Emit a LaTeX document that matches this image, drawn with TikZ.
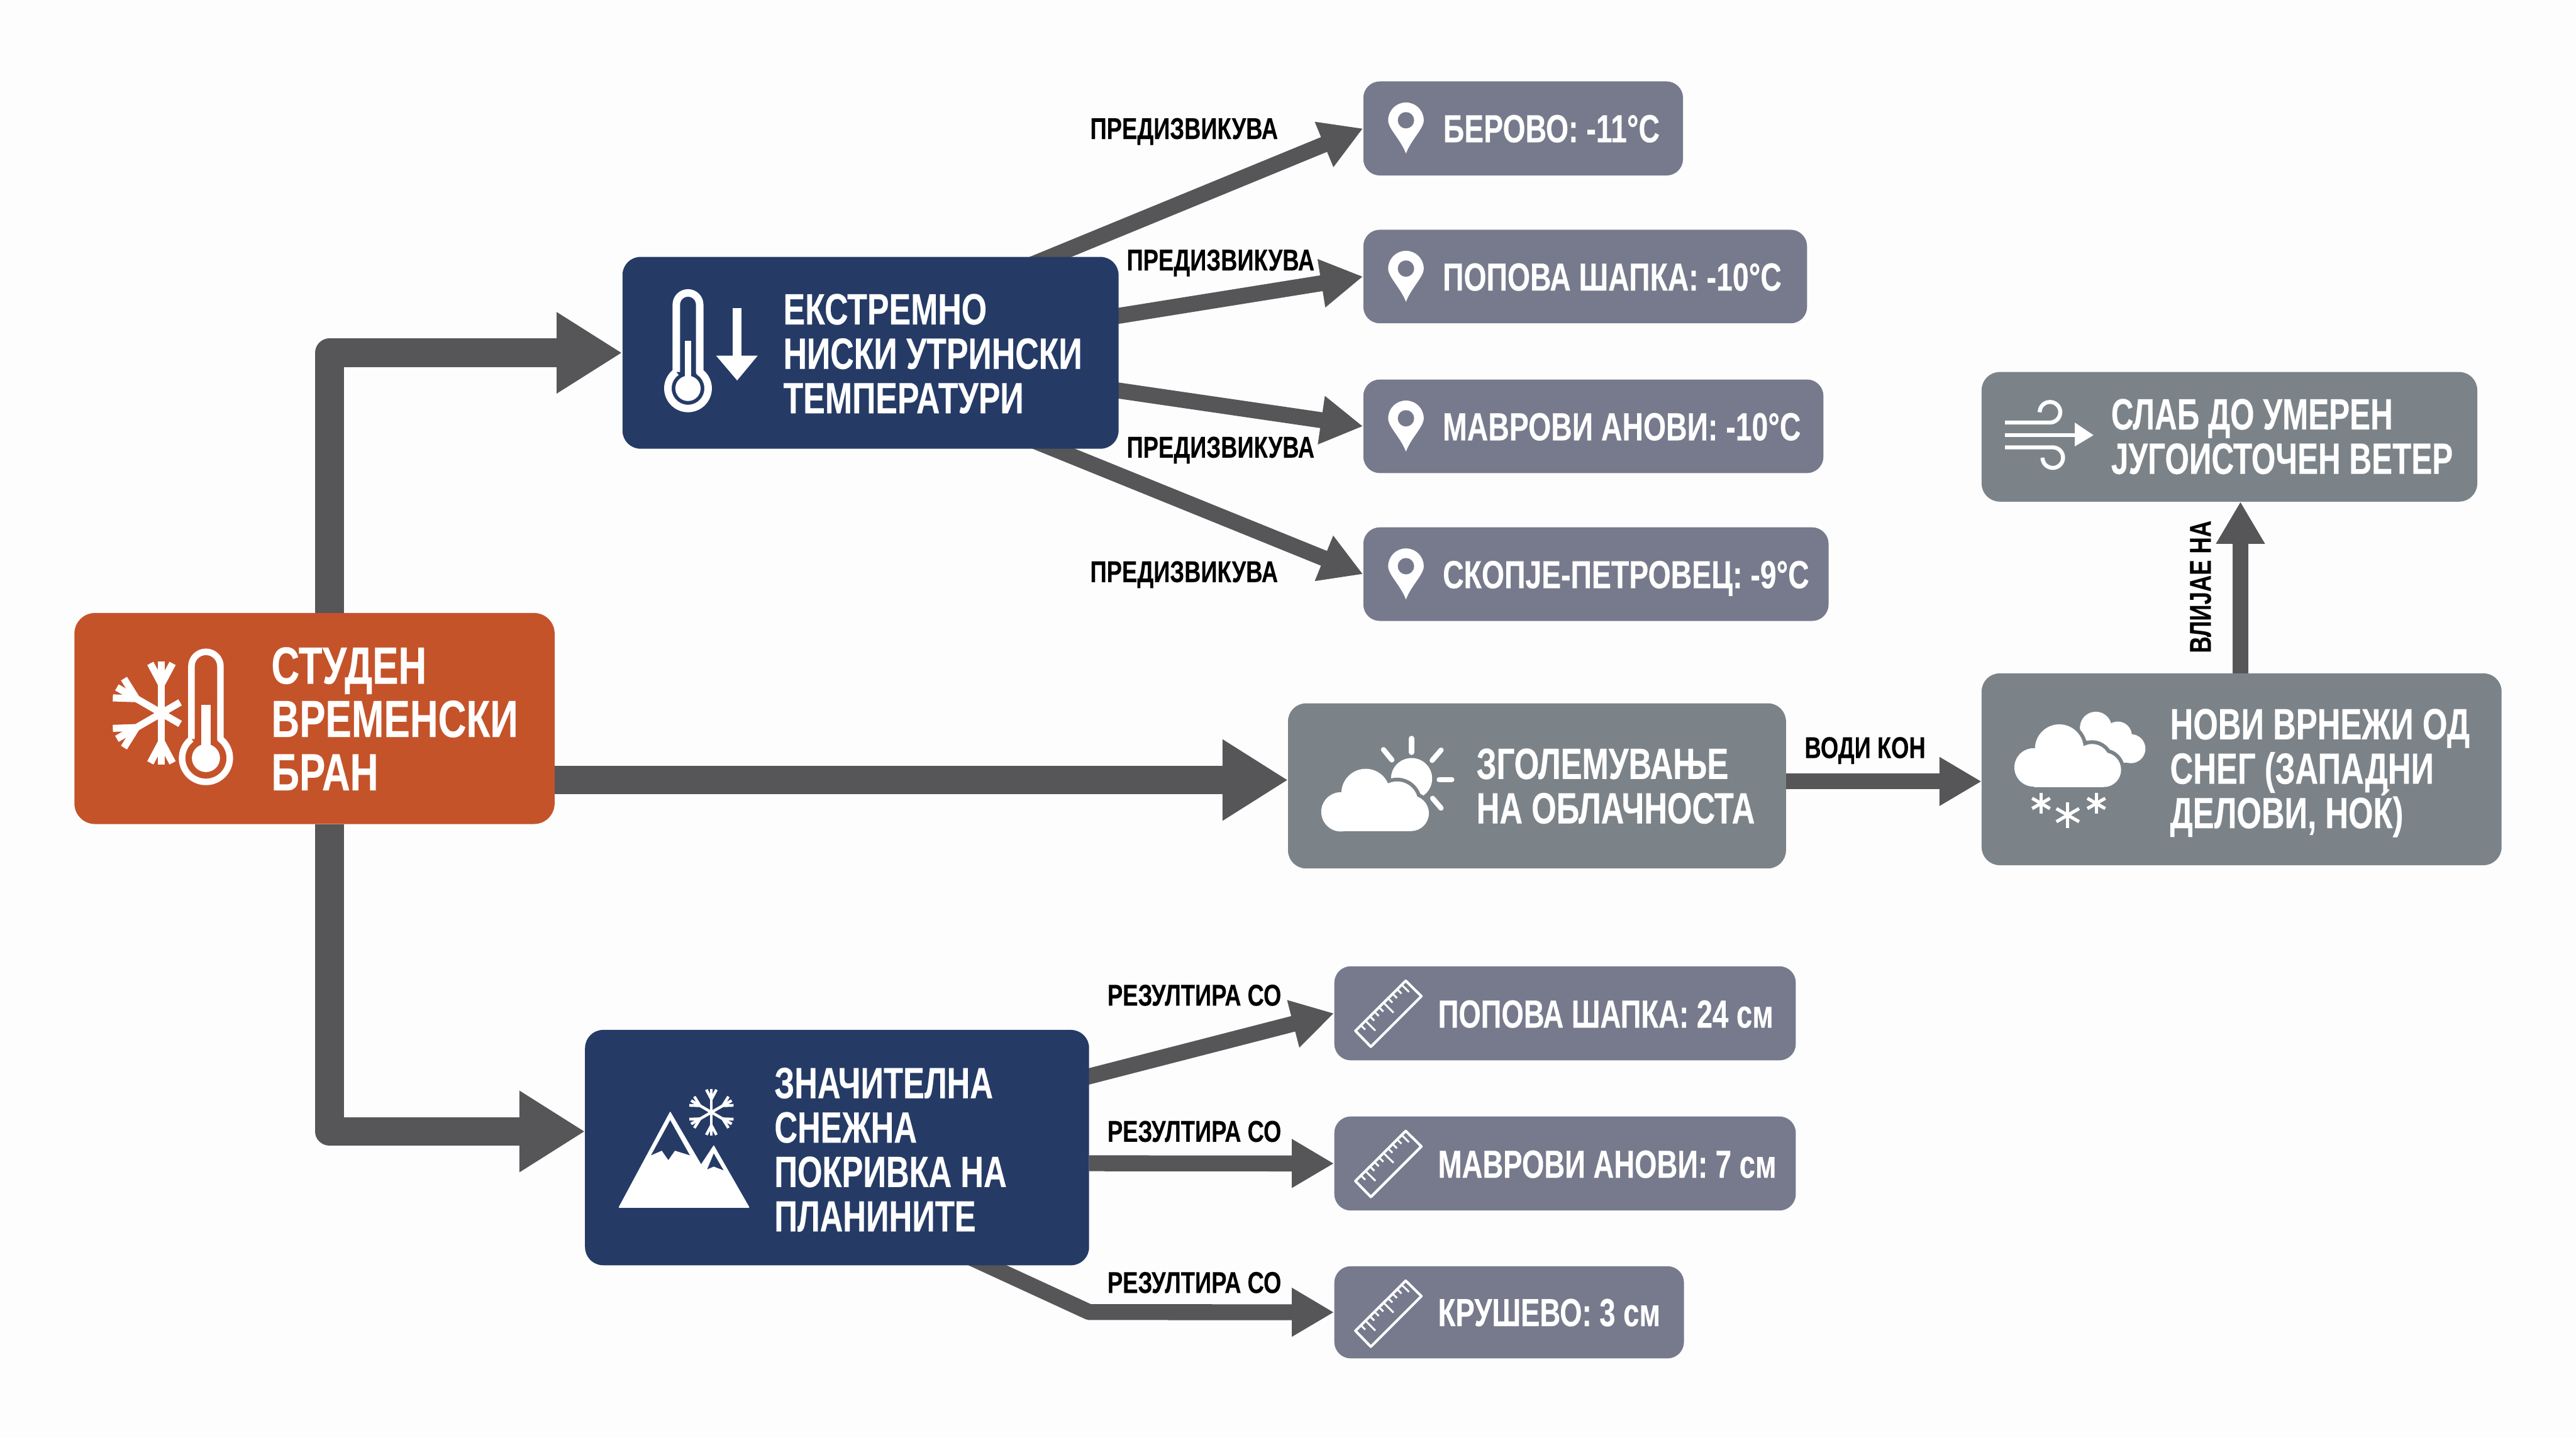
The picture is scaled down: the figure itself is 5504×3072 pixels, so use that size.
\documentclass[tikz,border=0pt]{standalone}
\usepackage{fontspec}
\setmainfont{Liberation Sans}
\newfontfamily\cfa{Liberation Sans}[FakeStretch=0.71,FakeBold=0.25]
\newfontfamily\cfb{Liberation Sans}[FakeStretch=0.73,FakeBold=0.25]
\newfontfamily\cfc{Liberation Sans}[FakeStretch=0.745,FakeBold=0.25]
\newfontfamily\cfd{Liberation Sans}[FakeStretch=0.76,FakeBold=0.15]
\usetikzlibrary{arrows.meta,calc}
\definecolor{pagebg}{HTML}{FDFDFD}
\definecolor{orangebox}{HTML}{C4532A}
\definecolor{navybox}{HTML}{253B66}
\definecolor{graybox}{HTML}{7B8389}
\definecolor{slatebox}{HTML}{767A8C}
\definecolor{linkgray}{HTML}{565557}
\pgfdeclarelayer{bglayer}
\pgfdeclarelayer{connlayer}
\pgfsetlayers{bglayer,connlayer,main}
\tikzset{
  boxbase/.style={rectangle,inner sep=0pt,draw=none},
  rootbox/.style={boxbase,fill=orangebox,rounded corners=12.5pt},
  mainbox/.style={boxbase,fill=navybox,rounded corners=11pt},
  cloudbox/.style={boxbase,fill=graybox,rounded corners=11pt},
  leafbox/.style={boxbase,fill=slatebox,rounded corners=10pt},
  txtbase/.style={inner sep=0pt,text=white,align=left,anchor=west,execute at begin node={\lineskiplimit=-100pt}},
  roottxt/.style={txtbase,font=\cfc\bfseries\fontsize{31.8}{32.4}\selectfont},
  midtxtc/.style={txtbase,font=\cfc\bfseries\fontsize{26.6}{27}\selectfont},
  midtxtb/.style={txtbase,font=\cfb\bfseries\fontsize{26.6}{27}\selectfont},
  midtxta/.style={txtbase,font=\cfa\bfseries\fontsize{26.6}{27}\selectfont},
  leaftxt/.style={txtbase,anchor=base west,font=\cfc\bfseries\fontsize{23.8}{24}\selectfont},
  leaftxtb/.style={txtbase,anchor=base west,font=\cfb\bfseries\fontsize{23.8}{24}\selectfont},
  linklabel/.style={inner sep=0pt,text=black,font=\cfd\bfseries\fontsize{18.3}{19}\selectfont},
  bigconn/.style={draw=linkgray,line width=0.61cm,line join=round,-{Triangle[length=1.4cm,width=1.64cm]}},
  smallconn/.style={draw=linkgray,line width=0.34cm,line join=round,-{Triangle[length=0.9cm,width=0.98cm]}},
  iconline/.style={draw=white,line cap=round,line join=round},
}
% box from left/top/right/bottom in picture pixels
\newcommand\boxat[6]{\node[#2,minimum width={(#5-#3)*0.01cm},minimum height={(#6-#4)*0.01cm}] (#1) at ({(#3+#5)/2},{(#4+#6)/2}) {};}
% thermometer: cx, top, outer half width, bulb centre y, bulb outer r, stroke, mercury top, mercury w, blob r
\newcommand\thermo[9]{%
  \pgfmathsetmacro\hwc{#3-#6/2}\pgfmathsetmacro\rc{#5-#6/2}%
  \pgfmathsetmacro\tha{acos(\hwc/\rc)}%
  \pgfmathsetmacro\jy{#4-\rc*sin(\tha)}%
  \draw[draw=white,line width=#6*0.01cm,line join=round]
    ({#1-\hwc},\jy) -- ({#1-\hwc},{#2+\hwc}) arc[start angle=180,end angle=360,radius=\hwc]
    -- ({#1+\hwc},\jy) arc[start angle=-\tha,end angle=180+\tha,radius=\rc];
  \fill[white] ({#1-#8/2},#7) rectangle ({#1+#8/2},#4);
  \fill[white] (#1,#4) circle[radius=#9];
}
% six-armed snowflake
\newcommand\flake[5]{% cx cy r stroke branch-at
  \begin{scope}[shift={(#1,#2)}]
  \foreach \a in {#5}{
    \draw[draw=white,line width=#4*0.01cm] (0,0) -- (\a:#3);
    \draw[draw=white,line width=#4*0.01cm] (\a:{0.56*#3}) -- ++({\a+28}:{0.46*#3});
    \draw[draw=white,line width=#4*0.01cm] (\a:{0.56*#3}) -- ++({\a-28}:{0.46*#3});
  }
  \end{scope}
}
% map pin; x,y of the circle centre; fill colour of the hole
\newcommand\pin[2]{%
  \fill[white] (#1,{#2+71}) .. controls ({#1-12},{#2+40}) and ({#1-38},{#2+18}) .. ({#1-38},#2)
    arc[start angle=180,end angle=360,radius=38]
    .. controls ({#1+38},{#2+18}) and ({#1+12},{#2+40}) .. cycle;
  \fill[slatebox] (#1,#2) circle[radius=17.5];
}
% ruler; x,y of the box's top left corner
\newcommand\ruler[2]{%
  \begin{scope}[shift={(#1,#2)}]
  \draw[draw=white,line width=0.055cm,line join=round] (152.5,31) -- (186,64) -- (78,172) -- (45,138) -- cycle;
  \foreach \t/\L in {0.08/22,0.17/13,0.26/13,0.35/13,0.44/30,0.53/13,0.62/13,0.71/13,0.80/30,0.89/13}{
    \draw[draw=white,line width=0.04cm] ({152.5-107.5*\t},{31+107*\t}) -- ++({0.71*\L},{0.70*\L});
  }
  \end{scope}
}
\begin{document}
\begin{tikzpicture}[x=0.01cm,y=-0.01cm]
\begin{pgfonlayer}{bglayer}
  \fill[pagebg] (0,0) rectangle (5504,3072);
\end{pgfonlayer}
\useasboundingbox (0,0) rectangle (5504,3072);

% boxes
\boxat{root}{rootbox}{159}{1310}{1185}{1761}
\boxat{temps}{mainbox}{1330}{549}{2390}{959}
\boxat{snowcov}{mainbox}{1250}{2201}{2327}{2704}
\boxat{clouds}{cloudbox}{2752}{1503}{3816}{1856}
\boxat{newsnow}{cloudbox}{4234}{1439}{5345}{1849}
\boxat{wind}{cloudbox}{4234}{795}{5293}{1072}
\boxat{bero}{leafbox}{2913}{174}{3596}{375}
\boxat{popt}{leafbox}{2913}{491}{3861}{691}
\boxat{mavt}{leafbox}{2913}{811}{3896}{1011}
\boxat{skop}{leafbox}{2913}{1127}{3907}{1327}
\boxat{pops}{leafbox}{2851}{2065}{3837}{2266}
\boxat{mavs}{leafbox}{2851}{2386}{3837}{2587}
\boxat{krus}{leafbox}{2851}{2706}{3598}{2903}

% connector ends that are not at a box's centre line
\coordinate (rootUp) at (704,1310);
\coordinate (cornerUp) at (704,754);
\coordinate (rootDown) at (704,1761);
\coordinate (cornerDown) at (704,2418);
\coordinate (snowIn) at (1250,2418);
\coordinate (rootE) at (1185,1667);
\coordinate (cloudIn) at (2752,1667);
\coordinate (cloudOut) at (3816,1670);
\coordinate (newIn) at (4234,1670);
\coordinate (newOut) at (4787,1439);
\coordinate (windIn) at (4787,1072);
\coordinate (t1) at (2145,590);
\coordinate (t2) at (2290,691);
\coordinate (t3) at (2290,820);
\coordinate (t4) at (2148,917);
\coordinate (s1) at (2227,2326);
\coordinate (s2) at (2327,2486);
\coordinate (s3) at (2010,2658);
\coordinate (s3bend) at (2327,2804);

\begin{pgfonlayer}{connlayer}
  \draw[bigconn] (rootUp) -- (cornerUp) -- (temps.west);
  \draw[bigconn] (rootDown) -- (cornerDown) -- (snowIn);
  \draw[bigconn] (rootE) -- (cloudIn);
  \draw[smallconn] (cloudOut) -- (newIn);
  \draw[smallconn] (newOut) -- (windIn);
  \draw[smallconn] (t1) -- (bero.west);
  \draw[smallconn] (t2) -- (popt.west);
  \draw[smallconn] (t3) -- (mavt.west);
  \draw[smallconn] (t4) -- (skop.west);
  \draw[smallconn] (s1) -- (pops.west);
  \draw[smallconn] (s2) -- (mavs.west);
  \draw[smallconn] (s3) -- (s3bend) -- (krus.west);
\end{pgfonlayer}

% connector labels
\node[linklabel] (l1) at (2530,281) {ПРЕДИЗВИКУВА};
\node[linklabel] (l2) at (2608,562) {ПРЕДИЗВИКУВА};
\node[linklabel] (l3) at (2608,962) {ПРЕДИЗВИКУВА};
\node[linklabel] (l4) at (2530,1228) {ПРЕДИЗВИКУВА};
\node[linklabel] (l5) at (2552,2127) {РЕЗУЛТИРА СО};
\node[linklabel] (l6) at (2552,2418) {РЕЗУЛТИРА СО};
\node[linklabel] (l7) at (2552,2741) {РЕЗУЛТИРА СО};
\node[linklabel] (l8) at (3985,1604) {ВОДИ КОН};
\node[linklabel,rotate=90] (l9) at (4702,1254) {ВЛИЈАЕ НА};

% box texts
\node[roottxt] (troot) at (579,1536) {СТУДЕН\\ВРЕМЕНСКИ\\БРАН};
\node[midtxtc] (ttemps) at (1673,756) {ЕКСТРЕМНО\\НИСКИ УТРИНСКИ\\ТЕМПЕРАТУРИ};
\node[midtxtb] (tsnow) at (1654,2457) {ЗНАЧИТЕЛНА\\СНЕЖНА\\ПОКРИВКА НА\\ПЛАНИНИТЕ};
\node[midtxtb] (tcloud) at (3154,1680) {ЗГОЛЕМУВАЊЕ\\НА ОБЛАЧНОСТА};
\node[midtxtb] (tnew) at (4636,1652) {НОВИ ВРНЕЖИ ОД\\СНЕГ (ЗАПАДНИ\\ДЕЛОВИ, НОЌ)};
\node[midtxta] (twind) at (4510,933) {СЛАБ ДО УМЕРЕН\\ЈУГОИСТОЧЕН ВЕТЕР};
\node[leaftxt] (tb) at (3083,304) {БЕРОВО: -11°C};
\node[leaftxt] (tp) at (3082,621) {ПОПОВА ШАПКА: -10°C};
\node[leaftxt] (tm) at (3082,941) {МАВРОВИ АНОВИ: -10°C};
\node[leaftxt] (ts) at (3082,1257) {СКОПЈЕ-ПЕТРОВЕЦ: -9°C};
\node[leaftxtb] (tp2) at (3072,2196) {ПОПОВА ШАПКА: 24 см};
\node[leaftxtb] (tm2) at (3072,2517) {МАВРОВИ АНОВИ: 7 см};
\node[leaftxtb] (tk) at (3072,2834) {КРУШЕВО: 3 см};

% root icon
\flake{345}{1524}{110}{15}{90,150,210,270}
\foreach \a in {30,-30}{\draw[draw=white,line width=0.15cm] (345,1524) -- ++(\a:46);}
\thermo{440}{1393}{38}{1620}{58}{14}{1506}{20}{30}

% temperature icon
\thermo{1470}{626}{33}{830}{51}{16}{728}{14}{27}
\draw[draw=white,line width=0.19cm] (1575,658) -- (1575,765);
\fill[white] (1530,760) -- (1619,760) -- (1575,813) -- cycle;

% snow-cover icon
\fill[white,line join=round,draw=white,line width=0.02cm] (1323,2580) -- (1432,2377) -- (1498,2490) -- (1525,2449) -- (1600,2580) -- cycle;
\fill[navybox] (1432,2394) -- (1391,2469) -- (1414,2459) -- (1428,2479) -- (1442,2459) -- (1474,2469) -- cycle;
\fill[navybox] (1525,2465) -- (1511,2499) -- (1525,2493) -- (1546,2501) -- cycle;
\flake{1520}{2377}{50}{6}{30,90,150,210,270,330}

% cloud and sun icon
\fill[white] (3016,1664) circle[radius=44];
\begin{scope}
  \foreach \x/\y/\r in {2865/1735/42,2918/1695/52,2985/1715/45,3015/1738/38}{\draw[draw=graybox,line width=0.16cm] (\x,\y) circle[radius=\r];}
  \draw[draw=graybox,line width=0.16cm] (2865,1777) -- (3015,1776);
  \foreach \x/\y/\r in {2865/1735/42,2918/1695/52,2985/1715/45,3015/1738/38}{\fill[white] (\x,\y) circle[radius=\r];}
  \fill[white] (2865,1700) rectangle (3015,1776);
\end{scope}
\foreach \xa/\ya/\xb/\yb in {3016/1578/3016/1608,2956/1602/2974/1624,3079/1603/3060/1625,3075/1666/3102/1666,3061/1706/3079/1727}{
  \draw[iconline,line width=0.11cm] (\xa,\ya) -- (\xb,\yb);
}

% new snow icon
\foreach \x/\y/\r in {4478/1555/34,4525/1572/30,4553/1600/31}{\fill[white] (\x,\y) circle[radius=\r];}
\fill[white] (4470,1560) rectangle (4550,1630);
\foreach \x/\y/\r in {4345/1640/41,4400/1600/52,4470/1628/38,4495/1645/37}{\draw[draw=graybox,line width=0.16cm] (\x,\y) circle[radius=\r];}
\fill[graybox] (4345,1650) rectangle (4580,1700);
\foreach \x/\y/\r in {4345/1640/41,4400/1600/52,4470/1628/38,4495/1645/37}{\fill[white] (\x,\y) circle[radius=\r];}
\fill[white] (4345,1610) rectangle (4495,1682);
\foreach \cx/\cy/\r in {4361/1717/22,4418/1742/28,4479/1717/22}{
  \foreach \a in {90,30,150}{\draw[draw=white,line width=0.07cm] (\cx,\cy) ++(\a:\r) -- ($(\cx,\cy)+({\a+180}:\r)$);}
}

% wind icon
\draw[iconline,line width=0.085cm,line cap=butt] (4284,903) -- (4380,903) arc[start angle=90,end angle=-180,radius=22];
\draw[iconline,line width=0.085cm,line cap=butt] (4284,930) -- (4450,930);
\draw[iconline,line width=0.085cm,line cap=butt] (4284,956) -- (4386,956) arc[start angle=-90,end angle=180,radius=22];
\fill[white] (4433,903) -- (4473,930) -- (4433,954) -- (4433,903) -- cycle;

% pins and rulers
\pin{3004}{257}
\pin{3004}{574}
\pin{3004}{894}
\pin{3004}{1210}
\ruler{2851}{2065}
\ruler{2851}{2386}
\ruler{2851}{2706}
\end{tikzpicture}
\end{document}
